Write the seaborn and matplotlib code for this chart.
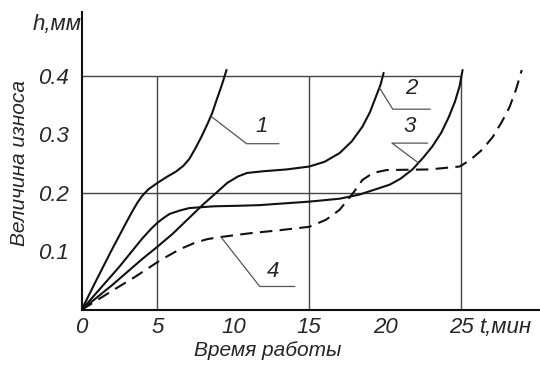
import matplotlib
matplotlib.use("Agg")
import matplotlib.pyplot as plt
import seaborn as sns
import pandas as pd

# Wear curves h(t)
t1 = [0, 1.0, 2.0, 3.0, 3.4, 3.7, 4.0, 4.4, 5.0, 5.6, 6.2, 6.7, 7.1, 7.5, 7.9, 8.3, 8.6, 8.9, 9.25, 9.55]
h1 = [0, 0.052, 0.103, 0.152, 0.171, 0.184, 0.195, 0.206, 0.217, 0.227, 0.236, 0.246, 0.258, 0.276, 0.296, 0.318, 0.336, 0.359, 0.385, 0.41]

t2 = [0, 2.0, 4.0, 5.0, 6.0, 7.0, 8.0, 9.0, 9.6, 10.3, 10.9, 12.0, 13.5, 15.0, 16.0, 17.0, 17.8, 18.5, 19.0, 19.4, 19.7, 19.9]
h2 = [0, 0.042, 0.087, 0.108, 0.13, 0.155, 0.18, 0.203, 0.217, 0.228, 0.234, 0.237, 0.24, 0.245, 0.253, 0.268, 0.288, 0.313, 0.338, 0.365, 0.385, 0.405]

t3 = [0, 2.5, 4.0, 4.6, 5.0, 5.4, 5.8, 6.5, 7.1, 8.7, 10.4, 11.7, 15.0, 17.0, 18.3, 19.6, 20.3, 21.0, 21.8, 22.5, 23.1, 23.7, 24.2, 24.6, 24.9, 25.1]
h3 = [0, 0.074, 0.122, 0.139, 0.149, 0.157, 0.164, 0.17, 0.174, 0.177, 0.178, 0.179, 0.185, 0.19, 0.197, 0.208, 0.214, 0.224, 0.24, 0.26, 0.279, 0.303, 0.33, 0.356, 0.382, 0.41]

t4 = [0, 2.1, 3.5, 5.2, 6.5, 7.5, 8.3, 9.3, 11.1, 13.0, 15.0, 16.1, 17.0, 17.9, 18.5, 19.2, 20.1, 22.9, 24.9, 25.6, 26.4, 27.1, 27.7, 28.2, 28.6, 29.0]
h4 = [0, 0.034, 0.056, 0.085, 0.104, 0.115, 0.121, 0.125, 0.131, 0.136, 0.142, 0.154, 0.171, 0.2, 0.222, 0.234, 0.239, 0.24, 0.245, 0.256, 0.274, 0.296, 0.322, 0.347, 0.375, 0.41]

# curve numbers and their leader lines: point on curve -> elbow -> end of shelf, text position
labels = ["1", "2", "3", "4"]
leaders = [
    [(8.57, 0.330), (10.87, 0.284), (13.0, 0.284)],
    [(19.64, 0.379), (20.5, 0.343), (22.97, 0.343)],
    [(22.2, 0.251), (20.45, 0.285), (22.8, 0.285)],
    [(9.2, 0.124), (11.74, 0.04), (14.05, 0.04)],
]
label_pos = [(11.85, 0.313), (21.7, 0.378), (21.6, 0.313), (12.6, 0.066)]

x_ticks = [0, 5, 10, 15, 20, 25]
y_ticks = [0.1, 0.2, 0.3, 0.4]
grid_t = [5, 15, 25]
grid_h = [0.2, 0.4]

sns.set_style("white")
plt.rcParams['font.family'] = ['Liberation Sans Narrow', 'Liberation Sans', 'DejaVu Sans']
plt.rcParams['font.style'] = 'italic'

fig = plt.figure(figsize=(5.4, 3.65), dpi=100)
ax = fig.add_axes([0.151, 0.151, 0.849, 0.816])

# frame lines
ax.vlines(grid_t, 0, 0.4, color='#444444', lw=1.0)
ax.hlines(grid_h, 0, 25, color='#444444', lw=1.0)

curves = [(t1, h1, '-'), (t2, h2, '-'), (t3, h3, '-'), (t4, h4, '--')]
for t, h, ls in curves:
    d = pd.DataFrame({'t': t, 'h': h})
    sns.lineplot(data=d, x='t', y='h', ax=ax, color='#111111', lw=1.5, sort=False)
    if ls == '--':
        ax.lines[-1].set_dashes((6, 3.5))

for pts, lab, pos in zip(leaders, labels, label_pos):
    xs = [p[0] for p in pts]
    ys = [p[1] for p in pts]
    ax.plot(xs, ys, color='#555555', lw=0.9)
    ax.text(pos[0], pos[1], lab, fontsize=16, ha='center', va='center')

ax.set_xlim(0, 30.2)
ax.set_ylim(0, 0.509)
ax.set_xticks(x_ticks)
ax.set_xticklabels([str(v) for v in x_ticks])
ax.set_yticks(y_ticks)
ax.set_yticklabels([str(v) for v in y_ticks])
ax.tick_params(axis='x', direction='in', length=6, width=1, pad=5, labelsize=16)
ax.tick_params(axis='y', direction='in', length=7, width=1, pad=9, labelsize=16)
ax.set_xlabel("")
ax.set_ylabel("")
sns.despine(ax=ax)
for s in ['left', 'bottom']:
    ax.spines[s].set_linewidth(1.5)
    ax.spines[s].set_color('#111111')

fig.text(0.105, 0.932, "h,мм", fontsize=16, ha='center', va='center')
fig.text(0.937, 0.104, "t,мин", fontsize=16, ha='center', va='center')
fig.text(0.037, 0.553, "Величина износа", fontsize=15, rotation=90, ha='center', va='center')
fig.text(0.496, 0.041, "Время работы", fontsize=15, ha='center', va='center')

fig.savefig("out.png", dpi=100)
